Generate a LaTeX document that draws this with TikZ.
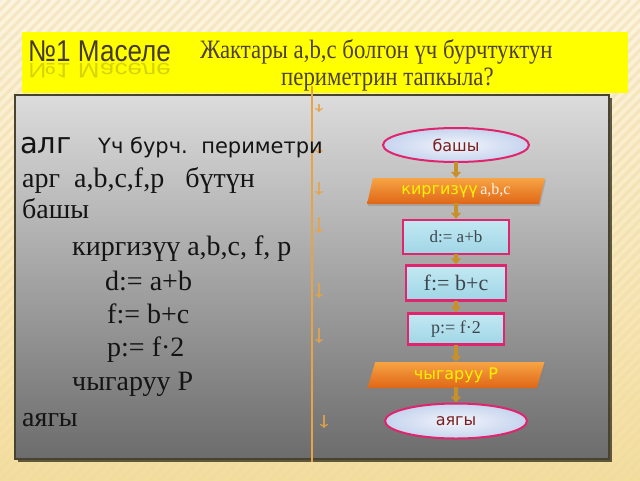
\documentclass[tikz,border=0pt]{standalone}
\usepackage{fontspec}
\setmainfont{Liberation Serif}
\setsansfont{DejaVu Sans}
\newfontfamily\titlefont[FakeStretch=0.87]{Liberation Sans}
\newfontfamily\headfont[FakeStretch=0.86]{Liberation Serif}
\usetikzlibrary{arrows,arrows.meta,shapes.geometric,shadows}

\definecolor{pagetop}{HTML}{FCF4E0}
\definecolor{pagebot}{HTML}{F4DE9E}
\definecolor{stripec}{HTML}{EFD9A2}
\definecolor{bary}{HTML}{FFFF00}
\definecolor{titlec}{HTML}{453A26}
\definecolor{headc}{HTML}{4E4030}
\definecolor{paneltop}{HTML}{DCDCDC}
\definecolor{panelbot}{HTML}{6C6C6C}
\definecolor{panelline}{HTML}{47432F}
\definecolor{guidec}{HTML}{E6A448}
\definecolor{edgec}{HTML}{E0246E}
\definecolor{ovalin}{HTML}{F2F5FC}
\definecolor{ovalout}{HTML}{C6D4EE}
\definecolor{boxtop}{HTML}{C2E8F2}
\definecolor{boxbot}{HTML}{A0D6E6}
\definecolor{iotop}{HTML}{F6A444}
\definecolor{iobot}{HTML}{E06616}
\definecolor{flowc}{HTML}{C8902A}
\definecolor{ovaltext}{HTML}{7A1F1F}
\definecolor{iotext}{HTML}{FFF200}
\definecolor{boxtext}{HTML}{3C4650}

\begin{document}
\begin{tikzpicture}[x=1pt,y=-1pt,>={Triangle[length=6pt,width=10pt]},
        node distance=46pt,
        codeline/.style={anchor=base west,inner sep=0pt,text=black!92,
          font=\fontsize{28}{28}\selectfont},
        oval/.style={ellipse,draw=edgec,line width=2pt,inner sep=0pt,
          inner color=ovalin,outer color=ovalout,text=ovaltext,
          font=\sffamily\fontsize{16}{16}\selectfont},
        iobox/.style={trapezium,trapezium left angle=75,trapezium right angle=105,
          trapezium stretches=true,minimum width=178pt,minimum height=26pt,
          inner sep=0pt,top color=iotop,bottom color=iobot,
          drop shadow={shadow xshift=1pt,shadow yshift=-2pt,opacity=0.35}},
        calcbox/.style={rectangle,draw=edgec,line width=2.5pt,inner sep=0pt,
          top color=boxtop,bottom color=boxbot,text=boxtext},
        flow/.style={->,draw=flowc,line width=4pt,shorten <=-1pt}]

  % page and frame
  \useasboundingbox (0,0) rectangle (640,480);
  \fill[top color=pagetop,bottom color=pagebot] (0,0) rectangle (640,480);
  \begin{scope}
    \clip (0,0) rectangle (640,480);
    \foreach \i in {-480,-470,...,640}
      \draw[stripec,line width=3pt,opacity=0.45] (\i,480) -- (\i+480,0);
  \end{scope}

  % title bar
  \fill[bary] (22,32) rectangle (628,93);
  \node[anchor=base west,inner sep=0pt,text=titlec,
    font=\titlefont\fontsize{30}{30}\selectfont] (num) at (28,61) {№1 Маселе};
  \node[anchor=base west,inner sep=0pt,text=titlec,text opacity=0.22,yscale=-0.7,
    font=\titlefont\fontsize{30}{30}\selectfont] (numref) at (28,63) {№1 Маселе};
  \node[anchor=base west,inner sep=0pt,text=headc,
    font=\headfont\fontsize{26.5}{26.5}\selectfont] (task1) at (200,58)
    {Жактары a,b,c болгон үч бурчтуктун};
  \node[anchor=base west,inner sep=0pt,text=headc,
    font=\headfont\fontsize{26.5}{26.5}\selectfont] (task2) at (281,85)
    {периметрин тапкыла?};

  % grey panel
  \fill[panelline!80!black,opacity=0.8] (18,98) rectangle (612,462);
  \path[draw=panelline,line width=1.5pt,top color=paneltop,bottom color=panelbot]
    (15,95) rectangle (609,459);
  \draw[guidec,line width=1.2pt] (312,86) -- (312,462);
  \foreach \x/\a/\b in {319/104/112,319/146/154,319/182/195,319/217/233,
      319/283/298,319/328/343,324/415/428}
    \draw[guidec,opacity=0.85,line width=1.3pt,-{To[length=4pt,width=8pt]}]
      (\x,\a) -- (\x,\b);

  % algorithm text
  \node[codeline,font=\sffamily\fontsize{29}{29}\selectfont] (alg) at (20,153) {алг};
  \node[codeline,font=\sffamily\fontsize{21}{21}\selectfont] (algname) at (98,153)
    {Үч бурч.\ \ периметри};
  \node[codeline] (arg) at (22,187) {арг\ \ a,b,c,f,p\ \ \ бүтүн};
  \node[codeline] (beg) at (22,218) {башы};
  \node[codeline] (inp) at (72,255) {киргизүү a,b,c, f, p};
  \node[codeline] (setd) at (105,290) {d:= a+b};
  \node[codeline] (setf) at (107,323) {f:= b+c};
  \node[codeline] (setp) at (107,356) {p:= f·2};
  \node[codeline] (outp) at (72,390) {чыгаруу P};
  \node[codeline] (fin) at (22,426) {аягы};

  % flowchart
  \node[oval,minimum width=146pt,minimum height=34pt] (start) at (456,145) {башы};
  \node[iobox] (in) [below of=start]
    {\textcolor{iotext}{\sffamily\fontsize{16}{16}\selectfont киргизүү}
     \textcolor{white!90!orange}{\fontsize{16}{16}\selectfont a,b,c}};
  \node[calcbox,minimum width=106pt,minimum height=34pt,
    font=\fontsize{17}{17}\selectfont] (d) [below of=in] {d:= a+b};
  \node[calcbox,minimum width=100pt,minimum height=35pt,
    font=\fontsize{22}{22}\selectfont] (f) [below of=d] {f:= b+c};
  \node[calcbox,minimum width=96pt,minimum height=31pt,
    font=\fontsize{18}{18}\selectfont] (p) [below of=f] {p:= f·2};
  \node[iobox] (out) [below of=p]
    {\textcolor{iotext}{\sffamily\fontsize{16}{16}\selectfont чыгаруу P}};
  \node[oval,minimum width=142pt,minimum height=35pt] (end) [below of=out] {аягы};

  \path (start) edge[flow] (in)
        (in) edge[flow] (d)
        (d) edge[flow] (f)
        (f) edge[flow] (p)
        (p) edge[flow] (out)
        (out) edge[flow] (end);
\end{tikzpicture}
\end{document}
